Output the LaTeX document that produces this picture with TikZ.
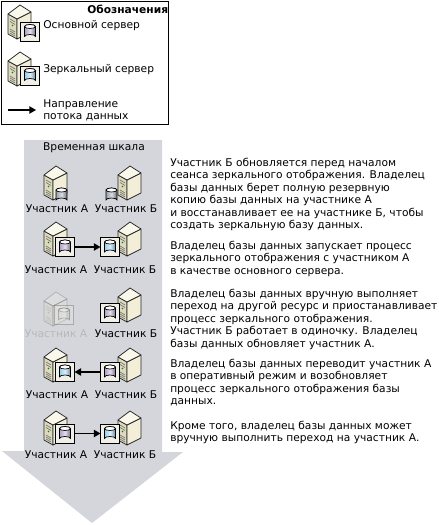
\documentclass[tikz,border=0pt]{standalone}
\usepackage{fontspec}
\setmainfont{DejaVu Sans}
\usetikzlibrary{arrows.meta}
\definecolor{arrowgray}{RGB}{212,214,220}
\definecolor{bodyfront}{RGB}{222,218,190}
\definecolor{bodyside}{RGB}{242,238,215}
\definecolor{bodytop}{RGB}{250,248,235}
\definecolor{panelfill}{RGB}{240,240,232}
\definecolor{dbblue}{RGB}{150,205,238}
\definecolor{dbviolet}{RGB}{175,160,200}
\definecolor{dbgray}{RGB}{150,160,172}
\definecolor{dbfade}{RGB}{200,200,200}
\tikzset{
 x=0.75pt,y=-0.75pt,
 lbl/.style={font=\fontsize{8pt}{9.4pt}\selectfont,anchor=west,inner sep=0pt,align=left},
 captext/.style={font=\fontsize{8pt}{9pt}\selectfont,inner sep=0pt},
 flow/.style={-{Triangle[length=5pt,width=5.5pt]},line width=1pt,black},
 srvline/.style={draw=black!85,line width=0.55pt,line join=round},
}
\newcommand{\srvbody}[2]{%
 \begin{scope}[shift={(#1,#2)}]
  \fill[bodyfront,srvline] (-11,-9)--(-2,-4)--(-2,16)--(-11,11)--cycle;
  \fill[bodyside,srvline] (-2,-4)--(12,-11)--(12,9)--(-2,16)--cycle;
  \fill[bodytop,srvline] (-11,-9)--(1,-18)--(12,-11)--(-2,-4)--cycle;
  \draw[black!55,line width=0.5pt] (-9,-4)--(-4,-1) (-9,-1.5)--(-4,1.5) (-9,6)--(-4,9) (-9,8)--(-4,11) (-9,10)--(-4,13);
  \fill[green!55!black] (-6.5,2.5) circle (0.9);
 \end{scope}}
\newcommand{\dbcyl}[4]{%
 \shade[left color=#3,right color=#3!70!black,middle color=#3!35!white,draw=#4,line width=0.5pt] (#1-5.5,#2-5) -- (#1-5.5,#2+5) arc[start angle=180,end angle=360,x radius=5.5,y radius=2] -- (#1+5.5,#2-5) arc[start angle=0,end angle=-180,x radius=5.5,y radius=2] -- cycle;
 \fill[white,draw=#4,line width=0.5pt] (#1,#2-5) ellipse[x radius=5.5,y radius=2];}
\newcommand{\panelbox}[3]{%
 \fill[panelfill,draw=black,line width=0.65pt] (#1-9.5,#2-9.5) rectangle (#1+9.5,#2+9.5);
 \dbcyl{#1}{#2}{#3}{black}}
\begin{document}
\begin{tikzpicture}
\useasboundingbox (0,0) rectangle (439,525);
\fill[white] (0,0) rectangle (439,525);
% legend
\draw[black,line width=0.75pt] (1,1) rectangle (168,124);
\node[lbl,font=\fontsize{8pt}{9pt}\selectfont\bfseries] (legendtitle) at (87,9) {Обозначения};
\srvbody{19}{23}\panelbox{30}{31.5}{dbviolet}
\node[lbl] (lprim) at (43,26) {Основной сервер};
\srvbody{19}{70}\panelbox{30}{75.5}{dbblue}
\node[lbl] (lmirr) at (43,70) {Зеркальный сервер};
\coordinate (la) at (8,110);
\coordinate (lb) at (36,110);
\draw[flow] (la)--(lb);
\node[lbl] (lflow) at (43,110.5) {Направление\\потока данных};
% arrow
\fill[arrowgray] (24,140)--(162,140)--(162,452)--(183,452)--(92,523)--(2,451)--(24,451)--cycle;
\node[captext] (tl) at (94,148) {Временная шкала};
% row 1
\srvbody{55}{184}\srvbody{129}{184}
\dbcyl{61.5}{195}{dbgray}{black}\dbcyl{111.5}{195}{dbgray}{black}
\node[captext] (a1) at (57,209) {Участник А};
\node[captext] (b1) at (126,209) {Участник Б};
% row 2
\srvbody{55}{240}\srvbody{129}{240}
\panelbox{65}{247}{dbviolet}\panelbox{110}{247}{dbblue}
\draw[flow] (74.5,247)--(100.5,247);
\node[captext] (a2) at (56,270) {Участник А};
\node[captext] (b2) at (125,270) {Участник Б};
% row 3
\begin{scope}[opacity=0.22]
\srvbody{55}{310}\panelbox{64}{315}{dbfade}
\end{scope}
\srvbody{129}{306}\panelbox{110}{313}{dbviolet}
\node[captext,text=black!28] (a3) at (56,334) {Участник А};
\node[captext] (b3) at (126,334) {Участник Б};
% row 4
\srvbody{55}{366}\srvbody{129}{366}
\panelbox{65}{372}{dbblue}\panelbox{110}{372}{dbviolet}
\draw[flow] (100.5,372)--(74.5,372);
\node[captext] (a4) at (57,395) {Участник А};
\node[captext] (b4) at (126,395) {Участник Б};
% row 5
\srvbody{55}{429}\srvbody{129}{429}
\panelbox{65}{433.5}{dbviolet}\panelbox{110}{433.5}{dbblue}
\draw[flow] (74.5,433.5)--(100.5,433.5);
\node[captext] (a5) at (56,455) {Участник А};
\node[captext] (b5) at (125,455) {Участник Б};
% text
\node[lbl,anchor=north west] (t1) at (170,157.5) {Участник Б обновляется перед началом\\сеанса зеркального отображения. Владелец\\базы данных берет полную резервную\\копию базы данных на участнике А\\и восстанавливает ее на участнике Б, чтобы\\создать зеркальную базу данных.};
\node[lbl,anchor=north west] (t2) at (170,240.5) {Владелец базы данных запускает процесс\\зеркального отображения с участником А\\в качестве основного сервера.};
\node[lbl,anchor=north west] (t3) at (170,288.5) {Владелец базы данных вручную выполняет\\переход на другой ресурс и приостанавливает\\процесс зеркального отображения.\\Участник Б работает в одиночку. Владелец\\базы данных обновляет участник А.};
\node[lbl,anchor=north west] (t4) at (170,358.5) {Владелец базы данных переводит участник А\\в оперативный режим и возобновляет\\процесс зеркального отображения базы\\данных.};
\node[lbl,anchor=north west] (t5) at (170,420.5) {Кроме того, владелец базы данных может\\вручную выполнить переход на участник А.};
\end{tikzpicture}
\end{document}
